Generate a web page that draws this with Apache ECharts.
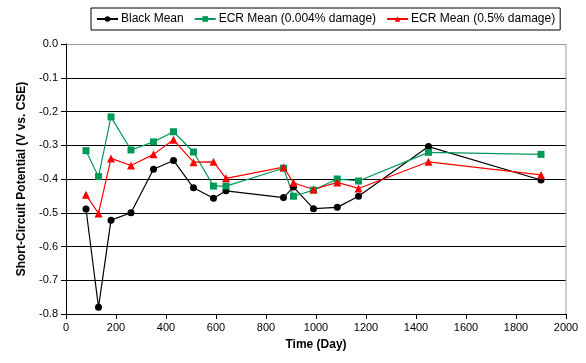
<!DOCTYPE html>
<html><head><meta charset="utf-8">
<script src="https://cdn.jsdelivr.net/npm/echarts@6/dist/echarts.min.js"></script>
<style>html,body{margin:0;padding:0;background:#fff}#c{width:586px;height:363px}</style>
</head><body><div id="c"></div>
<script>
const days = [80,130,180,260,350,430,510,590,640,870,910,990,1085,1170,1450,1900];
const blackMean = [-0.489,-0.78,-0.522,-0.50,-0.371,-0.345,-0.426,-0.457,-0.435,-0.455,-0.424,-0.488,-0.484,-0.451,-0.304,-0.403];
const ecr004 = [-0.316,-0.393,-0.216,-0.314,-0.29,-0.26,-0.32,-0.421,-0.421,-0.368,-0.451,-0.433,-0.40,-0.406,-0.321,-0.327];
const ecr05 = [-0.447,-0.502,-0.339,-0.36,-0.327,-0.284,-0.35,-0.349,-0.398,-0.365,-0.411,-0.431,-0.41,-0.428,-0.349,-0.388];
const seriesNames = ['Black Mean','ECR Mean (0.004% damage)','ECR Mean (0.5% damage)'];
const pairs = a => days.map((d,i)=>[d,a[i]]);
const font = 'Liberation Sans, Arial, sans-serif';
const chart = echarts.init(document.getElementById('c'));
chart.setOption({
  animation:false,
  textStyle:{fontFamily:font},
  grid:{left:66,right:20,top:44,bottom:49},
  legend:{
    top:8,left:91,
    borderColor:'#000',borderWidth:1,padding:[5,5,5,5],
    itemWidth:21,itemHeight:7,itemGap:10,
    textStyle:{fontFamily:font,fontSize:12,color:'#000',padding:[0,0,0,-2]},
    data:seriesNames
  },
  xAxis:{
    type:'value',min:0,max:2000,interval:200,
    name:'Time (Day)',nameLocation:'middle',nameGap:25,
    nameTextStyle:{fontFamily:font,fontSize:12,fontWeight:'bold',color:'#000'},
    axisLine:{onZero:false,lineStyle:{color:'#000'}},
    axisTick:{show:true,length:5,lineStyle:{color:'#000'}},
    axisLabel:{color:'#000',fontSize:11,margin:8,formatter:v=>String(v)},
    splitLine:{show:false}
  },
  yAxis:{
    type:'value',min:-0.8,max:0,interval:0.1,
    name:'Short-Circuit Potential (V vs. CSE)',nameLocation:'middle',nameGap:37,
    nameTextStyle:{fontFamily:font,fontSize:12,fontWeight:'bold',color:'#000'},
    axisLine:{show:true,lineStyle:{color:'#000'}},
    axisTick:{show:true,length:5,lineStyle:{color:'#000'}},
    axisLabel:{color:'#000',fontSize:11,formatter:v=>v.toFixed(1)},
    splitLine:{show:true,lineStyle:{color:['#000','#000','#000','#000','#000','#000','#000','#000','#999'],width:1}}
  },
  series:[
    {type:'line',data:[[2000,0],[2000,-0.8]],symbol:'none',silent:true,
     lineStyle:{color:'#999',width:1},tooltip:{show:false}},
    {name:seriesNames[0],type:'line',data:pairs(blackMean),symbol:'circle',symbolSize:7,
     lineStyle:{color:'#000',width:1.2},itemStyle:{color:'#000'}},
    {name:seriesNames[1],type:'line',data:pairs(ecr004),symbol:'rect',symbolSize:7,
     lineStyle:{color:'#009957',width:1.2},itemStyle:{color:'#009957'}},
    {name:seriesNames[2],type:'line',data:pairs(ecr05),symbol:'triangle',symbolSize:8,
     lineStyle:{color:'#ff0000',width:1.2},itemStyle:{color:'#ff0000'}}
  ]
});
</script></body></html>
